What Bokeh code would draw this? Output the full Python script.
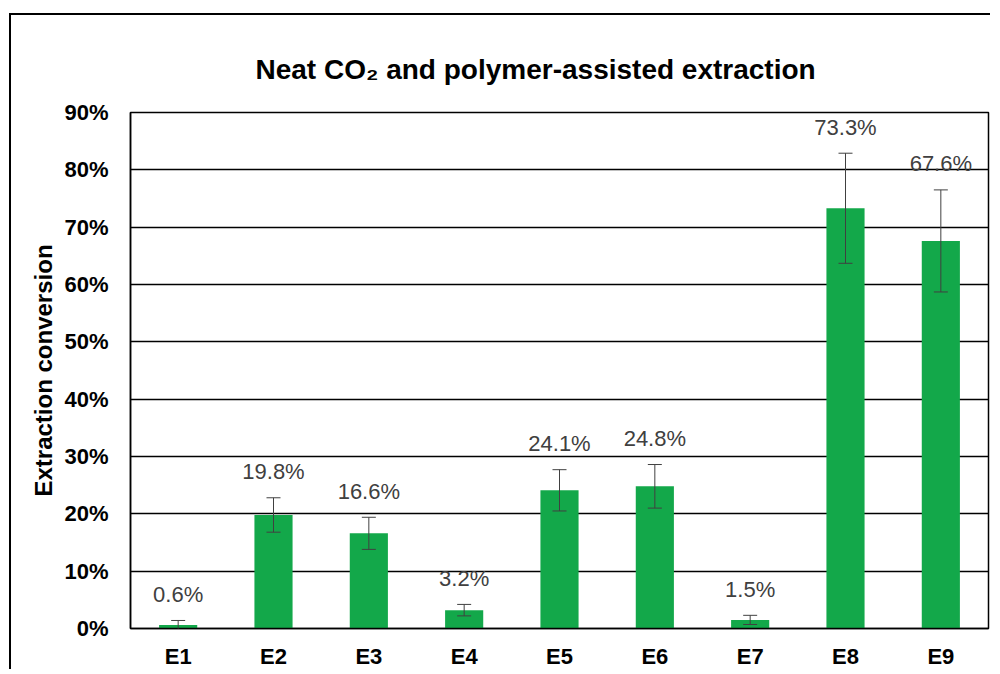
from bokeh.plotting import figure
from bokeh.models import ColumnDataSource, Whisker, LabelSet, NumeralTickFormatter, FixedTicker
from bokeh.core.properties import value
from bokeh.embed import file_html
from bokeh.resources import INLINE

categories = ["E1", "E2", "E3", "E4", "E5", "E6", "E7", "E8", "E9"]
values = [0.006, 0.198, 0.166, 0.032, 0.241, 0.248, 0.015, 0.733, 0.676]
errors = [0.008, 0.030, 0.028, 0.010, 0.036, 0.038, 0.008, 0.096, 0.089]
labels = ["0.6%", "19.8%", "16.6%", "3.2%", "24.1%", "24.8%", "1.5%", "73.3%", "67.6%"]

upper = [v + e for v, e in zip(values, errors)]
lower = [v - e for v, e in zip(values, errors)]
src = ColumnDataSource(dict(cat=categories, val=values, upper=upper, lower=lower, lab=labels))

p = figure(x_range=categories, y_range=(0, 0.9), width=981, height=656,
           output_backend="svg", toolbar_location=None,
           min_border_left=119, min_border_right=4, min_border_top=97, min_border_bottom=25)

p.styles = {"border-left": "2px solid #000", "border-top": "2px solid #000",
            "margin-left": "9px", "margin-top": "13px"}

p.title.text = "Neat CO\u2082 and polymer-assisted extraction"
p.title.text_font = "Liberation Sans"
p.title.text_font_size = "28px"
p.title.text_font_style = "bold"
p.title.align = "left"
p.title.offset = 125
p.title.standoff = 55
p.title.text_color = "#000000"

p.vbar(x="cat", top="val", width=0.4, source=src, color="#13A84A", line_color=None)

w = Whisker(source=src, base="cat", upper="upper", lower="lower",
            line_color="#404040", line_width=1, level="annotation")
w.upper_head.size = 14
w.lower_head.size = 14
w.upper_head.line_color = "#404040"
w.lower_head.line_color = "#404040"
p.add_layout(w)

ls = LabelSet(x="cat", y="upper", text="lab", source=src, text_align="center",
              text_baseline="middle", y_offset=26, text_font=value("Liberation Sans"),
              text_font_size=value("22px"), text_color="#404040")
p.add_layout(ls)

p.yaxis.ticker = FixedTicker(ticks=[i / 10 for i in range(10)])
p.yaxis.formatter = NumeralTickFormatter(format="0%")
p.yaxis.axis_label = "Extraction conversion"
p.yaxis.axis_label_text_font = "Liberation Sans"
p.yaxis.axis_label_text_font_size = "24px"
p.yaxis.axis_label_text_font_style = "bold"
p.yaxis.axis_label_text_color = "#000000"
p.yaxis.axis_label_standoff = 4

for ax in (p.xaxis, p.yaxis):
    ax.major_label_text_font = "Liberation Sans"
    ax.major_label_text_font_size = "22px"
    ax.major_label_text_font_style = "bold"
    ax.major_label_text_color = "#000000"
    ax.major_tick_line_color = None
    ax.minor_tick_line_color = None
    ax.axis_line_color = "#000000"
    ax.axis_line_width = 1.5

p.xaxis.major_label_standoff = 9
p.yaxis.major_label_standoff = 16

p.xgrid.grid_line_color = None
p.ygrid.grid_line_color = "#000000"
p.ygrid.grid_line_width = 1.3
p.outline_line_color = "#000000"
p.outline_line_width = 1.5
p.outline_line_alpha = 1.0

open("out.html", "w").write(file_html(p, INLINE))
